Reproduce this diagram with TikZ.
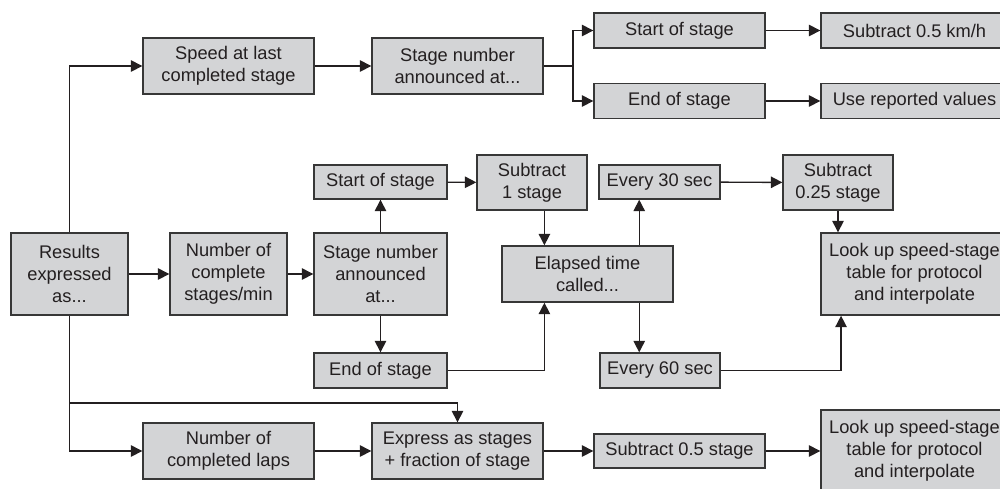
\documentclass[tikz,border=0pt]{standalone}
\usepackage{fontspec}
\setmainfont{Liberation Sans}
\usetikzlibrary{arrows.meta,calc}

\definecolor{boxfill}{RGB}{211,212,214}
\definecolor{boxline}{RGB}{55,55,55}
\definecolor{inkcol}{RGB}{35,31,32}

\begin{document}
\begin{tikzpicture}
        [x=0.02cm,y=-0.02cm,>={Triangle[length=6.5pt,width=6.5pt]},
        box/.style={draw=boxline,fill=boxfill,line width=0.8pt,align=center,inner sep=0pt,
            text=inkcol,font=\fontsize{10.4}{12.5}\selectfont},
        link/.style={->,draw=inkcol,line width=0.8pt}]

        \useasboundingbox (0,0) rectangle (1000,488);

        % left column and top branch
        \node[box,minimum width=2.34cm,minimum height=1.64cm] (res) at (69.5,274) {Results\\expressed\\as...};
        \node[box,minimum width=3.42cm,minimum height=1.12cm] (speed) at (228.5,66) {Speed at last\\completed stage};
        \node[box,minimum width=3.42cm,minimum height=1.12cm] (snTop) at (457.5,66) {Stage number\\announced at...};
        \node[box,minimum width=3.42cm,minimum height=0.7cm] (startTop) at (679.5,30.5) {Start of stage};
        \node[box,minimum width=3.42cm,minimum height=0.7cm] (endTop) at (679.5,101) {End of stage};
        \node[box,minimum width=3.74cm,minimum height=0.7cm] (subKmh) at (914.5,30.5) {Subtract 0.5 km/h};
        \node[box,minimum width=3.74cm,minimum height=0.7cm] (useRep) at (914.5,101) {Use reported values};

        % middle row
        \node[box,minimum width=2.34cm,minimum height=1.64cm] (numStages) at (228.5,274) {Number of\\complete\\stages/min};
        \node[box,minimum width=2.66cm,minimum height=1.64cm] (snMid) at (380.5,274) {Stage number\\announced\\at...};
        \node[box,minimum width=2.66cm,minimum height=0.68cm] (startMid) at (380.5,182) {Start of stage};
        \node[box,minimum width=2.66cm,minimum height=0.7cm] (endMid) at (380.5,370.5) {End of stage};
        \node[box,minimum width=2.2cm,minimum height=1.1cm] (sub1) at (532,182.5) {Subtract\\1 stage};
        \node[box,minimum width=3.42cm,minimum height=1.12cm] (elapsed) at (587.5,274) {Elapsed time\\called...};
        \node[box,minimum width=2.42cm,minimum height=0.68cm] (every30) at (659.5,182) {Every 30 sec};
        \node[box,minimum width=2.4cm,minimum height=0.7cm] (every60) at (660,370.5) {Every 60 sec};
        \node[box,minimum width=2.2cm,minimum height=1.1cm] (sub025) at (838,182.5) {Subtract\\0.25 stage};
        \node[box,minimum width=3.74cm,minimum height=1.64cm] (lookMid) at (914.5,274) {Look up speed-stage\\table for protocol\\and interpolate};

        % bottom row
        \node[box,minimum width=3.42cm,minimum height=1.12cm] (laps) at (228.5,451) {Number of\\completed laps};
        \node[box,minimum width=3.42cm,minimum height=1.12cm] (express) at (457.5,451) {Express as stages\\+ fraction of stage};
        \node[box,minimum width=3.42cm,minimum height=0.68cm] (sub05) at (679.5,451) {Subtract 0.5 stage};
        \node[box,minimum width=3.74cm,minimum height=1.64cm] (lookBot) at (914.5,451) {Look up speed-stage\\table for protocol\\and interpolate};

        \coordinate (split) at (573,66);
        \coordinate (tap) at (69.5,403);
        \coordinate (inA) at ($(elapsed.north west)!0.25!(elapsed.north east)$);
        \coordinate (inB) at ($(elapsed.south west)!0.25!(elapsed.south east)$);
        \coordinate (outA) at ($(elapsed.north west)!0.8!(elapsed.north east)$);
        \coordinate (outB) at ($(elapsed.south west)!0.8!(elapsed.south east)$);
        \coordinate (inC) at ($(lookMid.south west)!0.11!(lookMid.south east)$);

        \draw[link] (res.north) |- (speed.west);
        \draw[link] (speed) -- (snTop);
        \draw[link,-] (snTop.east) -- (split);
        \draw[link] (split) |- (startTop.west);
        \draw[link] (split) |- (endTop.west);
        \draw[link] (startTop) -- (subKmh);
        \draw[link] (endTop) -- (useRep);

        \draw[link] (res) -- (numStages);
        \draw[link] (numStages) -- (snMid);
        \draw[link] (snMid) -- (startMid);
        \draw[link] (snMid) -- (endMid);
        \draw[link] (startMid) -- (sub1);
        \draw[link] (sub1.south -| inA) -- (inA);
        \draw[link] (endMid.east) -| (inB);
        \draw[link] (outA) -- (outA |- every30.south);
        \draw[link] (outB) -- (outB |- every60.north);
        \draw[link] (every30) -- (sub025);
        \draw[link] (sub025.south) -- (sub025.south |- lookMid.north);
        \draw[link] (every60.east) -| (inC);

        \draw[link] (res.south) |- (laps.west);
        \draw[link] (tap) -| (express.north);
        \draw[link] (laps) -- (express);
        \draw[link] (express) -- (sub05);
        \draw[link] (sub05) -- (lookBot);

\end{tikzpicture}
\end{document}
